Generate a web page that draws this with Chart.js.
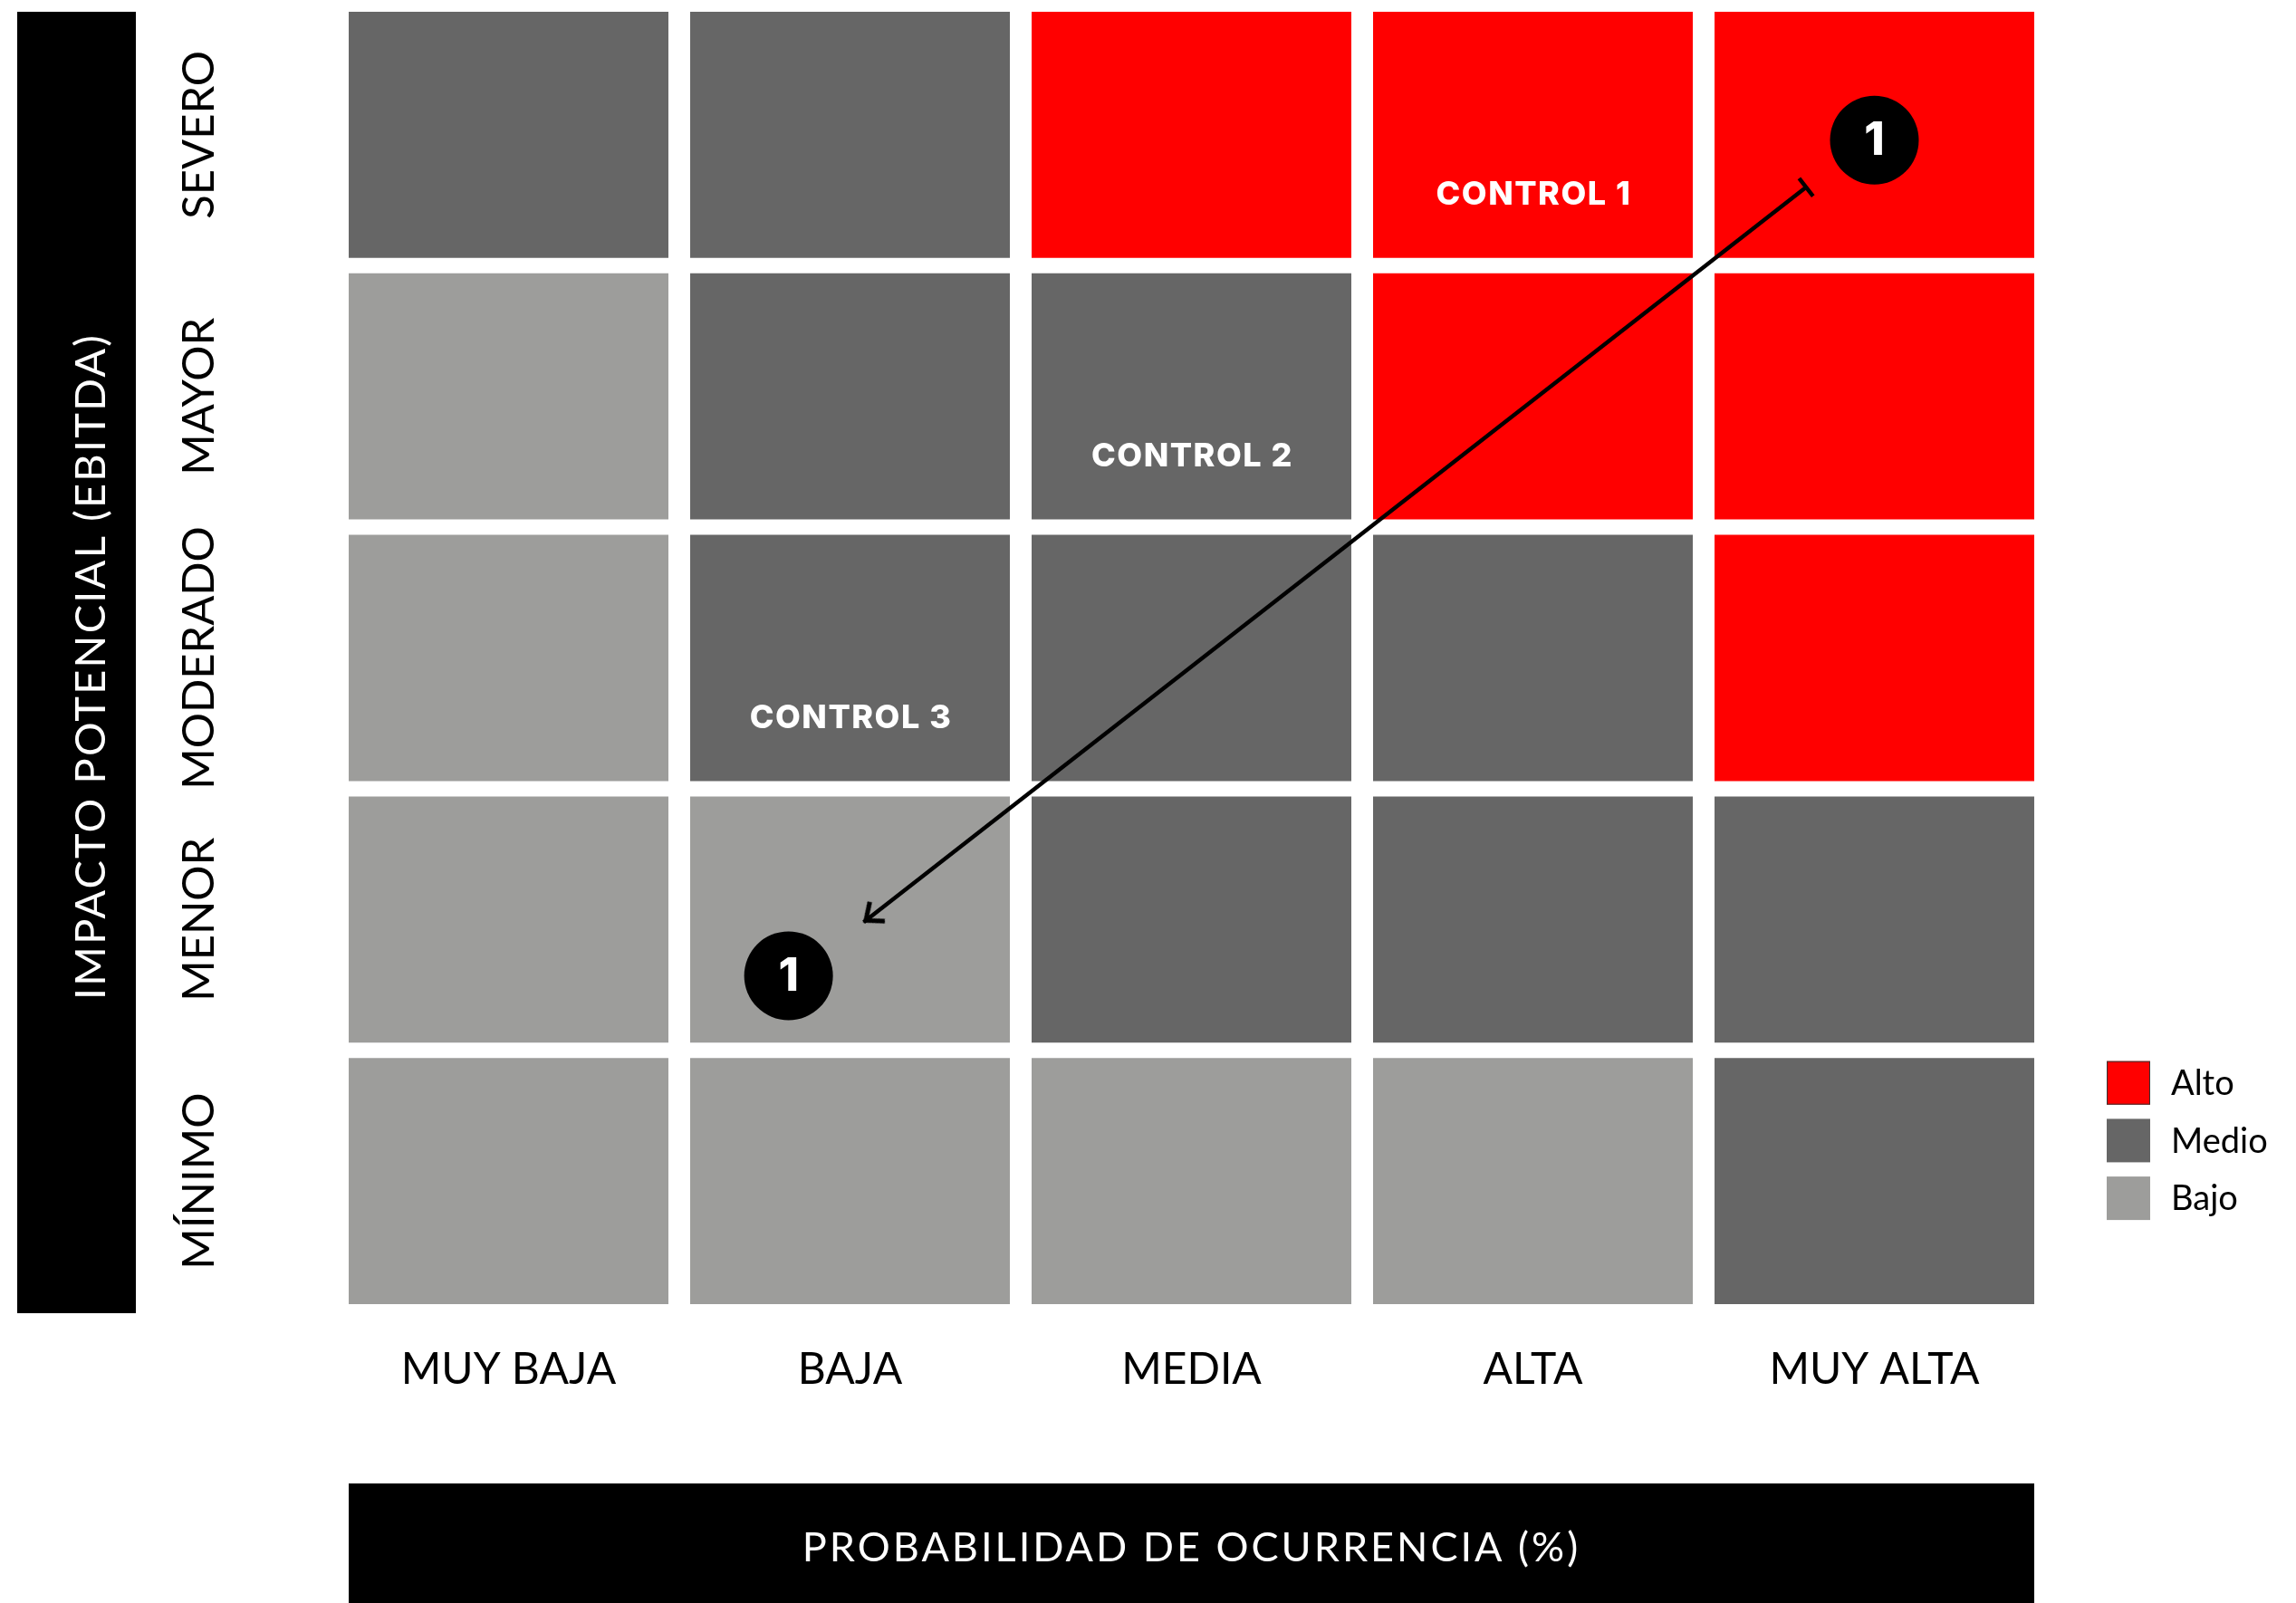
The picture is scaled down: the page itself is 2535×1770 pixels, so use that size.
<!DOCTYPE html>
<html>
<head>
<meta charset="utf-8">
<script src="https://cdn.jsdelivr.net/npm/chart.js"></script>
<style>
  html, body { margin: 0; padding: 0; background: #fff; overflow: hidden; }
  #caja { width: 2535px; height: 1770px; }
</style>
</head>
<body>
<div id="caja"><canvas id="matriz"></canvas></div>
<script>
// ejes de la matriz
const probabilidad = ['MUY BAJA', 'BAJA', 'MEDIA', 'ALTA', 'MUY ALTA'];
const impacto = ['SEVERO', 'MAYOR', 'MODERADO', 'MENOR', 'MÍNIMO'];
const niveles = ['Alto', 'Medio', 'Bajo'];

// nivel de riesgo de cada celda, de MUY BAJA a MUY ALTA
const filaSevero   = ['Medio', 'Medio', 'Alto',  'Alto',  'Alto'];
const filaMayor    = ['Bajo',  'Medio', 'Medio', 'Alto',  'Alto'];
const filaModerado = ['Bajo',  'Medio', 'Medio', 'Medio', 'Alto'];
const filaMenor    = ['Bajo',  'Bajo',  'Medio', 'Medio', 'Medio'];
const filaMinimo   = ['Bajo',  'Bajo',  'Bajo',  'Bajo',  'Medio'];

// controles
const controles = ['CONTROL 1', 'CONTROL 2', 'CONTROL 3'];
const controlProb = ['ALTA', 'MEDIA', 'BAJA'];
const controlImpacto = ['SEVERO', 'MAYOR', 'MODERADO'];

// riesgo 1: inherente -> residual (x = indice de probabilidad, y = 0..5 desde abajo)
const riesgoEtiqueta = ['1', '1'];
const riesgoX = [4.0, 0.82];
const riesgoY = [4.48, 1.285];
const flechaX = [3.80, 1.04];
const flechaY = [4.30, 1.49];

const filas = [filaSevero, filaMayor, filaModerado, filaMenor, filaMinimo];
const colores = { Alto: '#ff0000', Medio: '#666666', Bajo: '#9d9d9b' };

const celdas = niveles.map(nivel => {
  const data = [];
  filas.forEach((fila, i) => {
    const r = impacto.length - 1 - i;
    fila.forEach((n, j) => {
      if (n === nivel) data.push({ x: j, y: [r, r + 1] });
    });
  });
  return {
    type: 'bar',
    label: nivel,
    data: data,
    backgroundColor: colores[nivel],
    borderColor: '#ffffff',
    borderWidth: { top: 8.5, bottom: 8.5, left: 0, right: 0 },
    borderSkipped: false,
    inflateAmount: 0,
    grouped: false,
    categoryPercentage: 1,
    barPercentage: 0.9363,
    order: 3
  };
});

// punta de flecha abierta
const punta = document.createElement('canvas');
punta.width = 60; punta.height = 60;
(function () {
  const pc = punta.getContext('2d');
  const a = 40 * Math.PI / 180, L = 21;
  pc.strokeStyle = '#000';
  pc.lineWidth = 5;
  pc.beginPath();
  pc.moveTo(27 - L * Math.cos(a), 30 - L * Math.sin(a));
  pc.lineTo(27, 30);
  pc.lineTo(27 - L * Math.cos(a), 30 + L * Math.sin(a));
  pc.stroke();
})();

function anguloFlecha(chart) {
  const sx = chart.scales.x, sy = chart.scales.y;
  const dx = sx.getPixelForValue(flechaX[1]) - sx.getPixelForValue(flechaX[0]);
  const dy = sy.getPixelForValue(flechaY[1]) - sy.getPixelForValue(flechaY[0]);
  return Math.atan2(dy, dx) * 180 / Math.PI;
}

const flecha = {
  type: 'line',
  label: 'flecha',
  data: flechaX.map((x, i) => ({ x: x, y: flechaY[i] })),
  borderColor: '#000',
  borderWidth: 4.5,
  fill: false,
  pointStyle: ['line', punta],
  pointRadius: 12.5,
  pointBorderWidth: 4.5,
  pointBorderColor: '#000',
  pointBackgroundColor: '#000',
  pointRotation: (c) => c.dataIndex === 0 ? anguloFlecha(c.chart) - 90 : anguloFlecha(c.chart),
  order: 2
};

const riesgos = {
  type: 'scatter',
  label: 'riesgo',
  data: riesgoX.map((x, i) => ({ x: x, y: riesgoY[i] })),
  backgroundColor: '#000',
  borderWidth: 0,
  pointRadius: 49,
  order: 1
};

const decoracion = {
  id: 'decoracion',
  beforeDraw(chart) {
    const ctx = chart.ctx;
    ctx.save();
    ctx.fillStyle = '#fff';
    ctx.fillRect(0, 0, chart.width, chart.height);
    ctx.restore();
  },
  afterDatasetsDraw(chart) {
    const ctx = chart.ctx, sx = chart.scales.x, sy = chart.scales.y;
    ctx.save();
    ctx.fillStyle = '#fff';
    ctx.textAlign = 'center';
    ctx.textBaseline = 'middle';
    ctx.font = '800 36px Inter';
    ctx.letterSpacing = '1.5px';
    controles.forEach((txt, k) => {
      const col = probabilidad.indexOf(controlProb[k]);
      const r = impacto.length - 1 - impacto.indexOf(controlImpacto[k]);
      ctx.fillText(txt, sx.getPixelForValue(col) + 1, sy.getPixelForValue(r + 0.269));
    });
    ctx.letterSpacing = '0px';
    const idx = chart.data.datasets.findIndex(d => d.type === 'scatter');
    ctx.font = '800 51px Inter';
    chart.getDatasetMeta(idx).data.forEach((p, i) => {
      ctx.fillText(riesgoEtiqueta[i], p.x, p.y + 1);
    });
    ctx.restore();
  },
  afterDraw(chart) {
    const ctx = chart.ctx, sy = chart.scales.y, area = chart.chartArea;
    ctx.save();
    // barra del eje vertical
    ctx.fillStyle = '#000';
    ctx.fillRect(19, 13, 131, 1437);
    ctx.fillStyle = '#fff';
    ctx.font = '47px Lato';
    ctx.letterSpacing = '2.2px';
    ctx.textAlign = 'center';
    ctx.textBaseline = 'alphabetic';
    ctx.save();
    ctx.translate(116, 736);
    ctx.rotate(-Math.PI / 2);
    ctx.fillText('IMPACTO POTENCIAL (EBITDA)', 0, 0);
    ctx.restore();
    // barra del eje horizontal
    ctx.fillStyle = '#000';
    ctx.fillRect(area.left + 12, 1638, area.width - 24, chart.height - 1638);
    ctx.fillStyle = '#fff';
    ctx.font = '45px Lato';
    ctx.letterSpacing = '3px';
    ctx.fillText('PROBABILIDAD DE OCURRENCIA (%)', (area.left + area.right) / 2, 1724);
    ctx.letterSpacing = '0px';
    // etiquetas de impacto
    ctx.fillStyle = '#000';
    ctx.font = '49px Lato';
    impacto.forEach((lab, i) => {
      const r = impacto.length - 1 - i;
      ctx.save();
      ctx.translate(236, sy.getPixelForValue(r + 0.5));
      ctx.rotate(-Math.PI / 2);
      ctx.fillText(lab, 0, 0);
      ctx.restore();
    });
    // leyenda
    ctx.textAlign = 'left';
    ctx.textBaseline = 'middle';
    ctx.font = '38px Lato';
    chart.data.datasets.filter(d => d.type === 'bar').forEach((d, i) => {
      const y0 = 1171.7 + i * 63.7;
      ctx.fillStyle = d.backgroundColor;
      ctx.fillRect(2326, y0, 48, 48);
      if (i === 0) {
        ctx.strokeStyle = '#333';
        ctx.lineWidth = 1;
        ctx.strokeRect(2326.5, y0 + 0.5, 47, 47);
      }
      ctx.fillStyle = '#000';
      ctx.fillText(d.label, 2397, y0 + 25);
    });
    ctx.restore();
  }
};

Chart.defaults.font.family = 'Lato';

new Chart(document.getElementById('matriz'), {
  type: 'bar',
  data: {
    datasets: [...celdas, flecha, riesgos]
  },
  options: {
    responsive: true,
    maintainAspectRatio: false,
    devicePixelRatio: 1,
    animation: false,
    events: [],
    layout: { autoPadding: false, padding: { left: 373, right: 277, top: 4.5, bottom: 0 } },
    plugins: {
      legend: { display: false },
      tooltip: { enabled: false }
    },
    scales: {
      x: {
        type: 'linear',
        min: -0.5,
        max: 4.5,
        offset: false,
        bounds: 'data',
        afterBuildTicks: (s) => { s.ticks = probabilidad.map((_, i) => ({ value: i })); },
        afterFit: (s) => { s.height = 321.5; },
        grid: { display: false, drawTicks: false },
        border: { display: false },
        ticks: {
          autoSkip: false,
          maxRotation: 0,
          padding: 35,
          color: '#000',
          font: { size: 48 },
          callback: (v) => probabilidad[v] ?? ''
        }
      },
      y: {
        type: 'linear',
        min: 0,
        max: 5,
        display: false
      }
    }
  },
  plugins: [decoracion]
});
</script>
</body>
</html>
